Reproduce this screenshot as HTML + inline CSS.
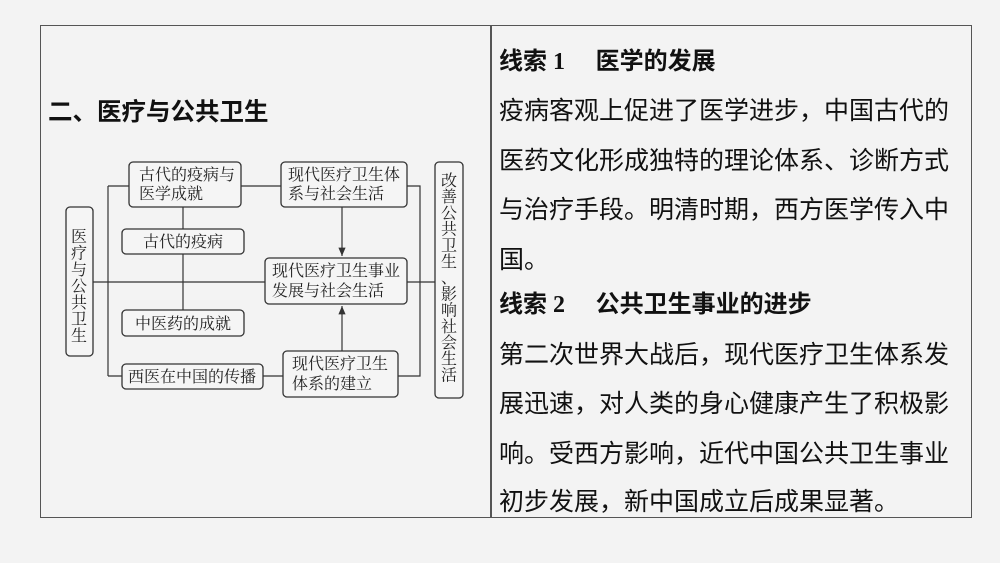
<!DOCTYPE html>
<html><head><meta charset="utf-8"><style>
body{margin:0;width:1000px;height:563px;background:#f3f3f3;overflow:hidden;font-family:"Liberation Sans","Noto Sans CJK SC",sans-serif;}
.frame{position:absolute;left:40px;top:25px;width:932px;height:493px;border:1.5px solid #555;box-sizing:border-box;}
.div{position:absolute;left:490px;top:25px;width:1.5px;height:493px;background:#555;}
.t{position:absolute;color:#111;white-space:nowrap;font-size:25px;}
.b{font-weight:bold;}
</style></head><body>
<div class="frame"></div><div class="div"></div>
<div class="t b" style="left:48px;top:93px;font-size:24.5px;">二、医疗与公共卫生</div>
<div class="t b" style="left:499px;top:41px;font-size:24px;"><span style="font-family:'Liberation Serif','Noto Sans CJK SC',serif;">线索 1</span>　 医学的发展</div>
<div class="t" style="left:499px;top:91px;">疫病客观上促进了医学进步，中国古代的</div>
<div class="t" style="left:499px;top:141px;">医药文化形成独特的理论体系、诊断方式</div>
<div class="t" style="left:499px;top:190px;">与治疗手段。明清时期，西方医学传入中</div>
<div class="t" style="left:499px;top:240px;">国。</div>
<div class="t b" style="left:499px;top:284px;font-size:24px;"><span style="font-family:'Liberation Serif','Noto Sans CJK SC',serif;">线索 2</span>　 公共卫生事业的进步</div>
<div class="t" style="left:499px;top:335px;">第二次世界大战后，现代医疗卫生体系发</div>
<div class="t" style="left:499px;top:384px;">展迅速，对人类的身心健康产生了积极影</div>
<div class="t" style="left:499px;top:434px;">响。受西方影响，近代中国公共卫生事业</div>
<div class="t" style="left:499px;top:482px;">初步发展，新中国成立后成果显著。</div>
<svg style="position:absolute;left:0;top:0" width="1000" height="563">
<defs><marker id="a" markerWidth="8" markerHeight="8" refX="7" refY="4" orient="auto"><path d="M0,1 L7,4 L0,7 z" fill="#333"/></marker></defs>
<g stroke="#333" stroke-width="1.2" fill="none">
<path d="M108,186 V376 M108,186 H129 M241,186 H281 M407,186 H420 V376 H398 M108,376 H122 M263,376 H283 M93,282 H265 M407,282 H435 M183,207 V310"/>
<path d="M342,207 V256" marker-end="url(#a)"/>
<path d="M342,351 V306" marker-end="url(#a)"/>
</g>
<g stroke="#333" stroke-width="1.3" fill="#f5f5f5">
<rect x="66" y="207" width="27" height="149" rx="4"/>
<rect x="129" y="162" width="112" height="45" rx="4"/>
<rect x="281" y="162" width="126" height="45" rx="4"/>
<rect x="435" y="162" width="28" height="236" rx="4"/>
<rect x="122" y="229" width="122" height="25" rx="4"/>
<rect x="265" y="258" width="142" height="46" rx="4"/>
<rect x="122" y="310" width="122" height="26" rx="4"/>
<rect x="122" y="364" width="141" height="25" rx="4"/>
<rect x="283" y="351" width="115" height="46" rx="4"/>
</g>
<g font-family="'Noto Serif CJK SC',serif" font-size="16" fill="#222">
<text x="139" y="180">古代的疫病与</text><text x="139" y="199">医学成就</text>
<text x="288" y="180">现代医疗卫生体</text><text x="288" y="199">系与社会生活</text>
<text x="143" y="247">古代的疫病</text>
<text x="272" y="276">现代医疗卫生事业</text><text x="272" y="296">发展与社会生活</text>
<text x="135" y="329">中医药的成就</text>
<text x="128" y="382">西医在中国的传播</text>
<text x="292" y="369">现代医疗卫生</text><text x="292" y="389">体系的建立</text>
<text x="71" y="242">医</text><text x="71" y="258.5">疗</text><text x="71" y="275">与</text><text x="71" y="291.5">公</text><text x="71" y="308">共</text><text x="71" y="324.5">卫</text><text x="71" y="341">生</text>
<text x="441" y="186">改</text><text x="441" y="202.2">善</text><text x="441" y="218.4">公</text><text x="441" y="234.6">共</text><text x="441" y="250.8">卫</text><text x="441" y="267">生</text><text x="441" y="283.2">、</text><text x="441" y="299.4">影</text><text x="441" y="315.6">响</text><text x="441" y="331.8">社</text><text x="441" y="348">会</text><text x="441" y="364.2">生</text><text x="441" y="380.4">活</text>
</g>
</svg>
</body></html>
